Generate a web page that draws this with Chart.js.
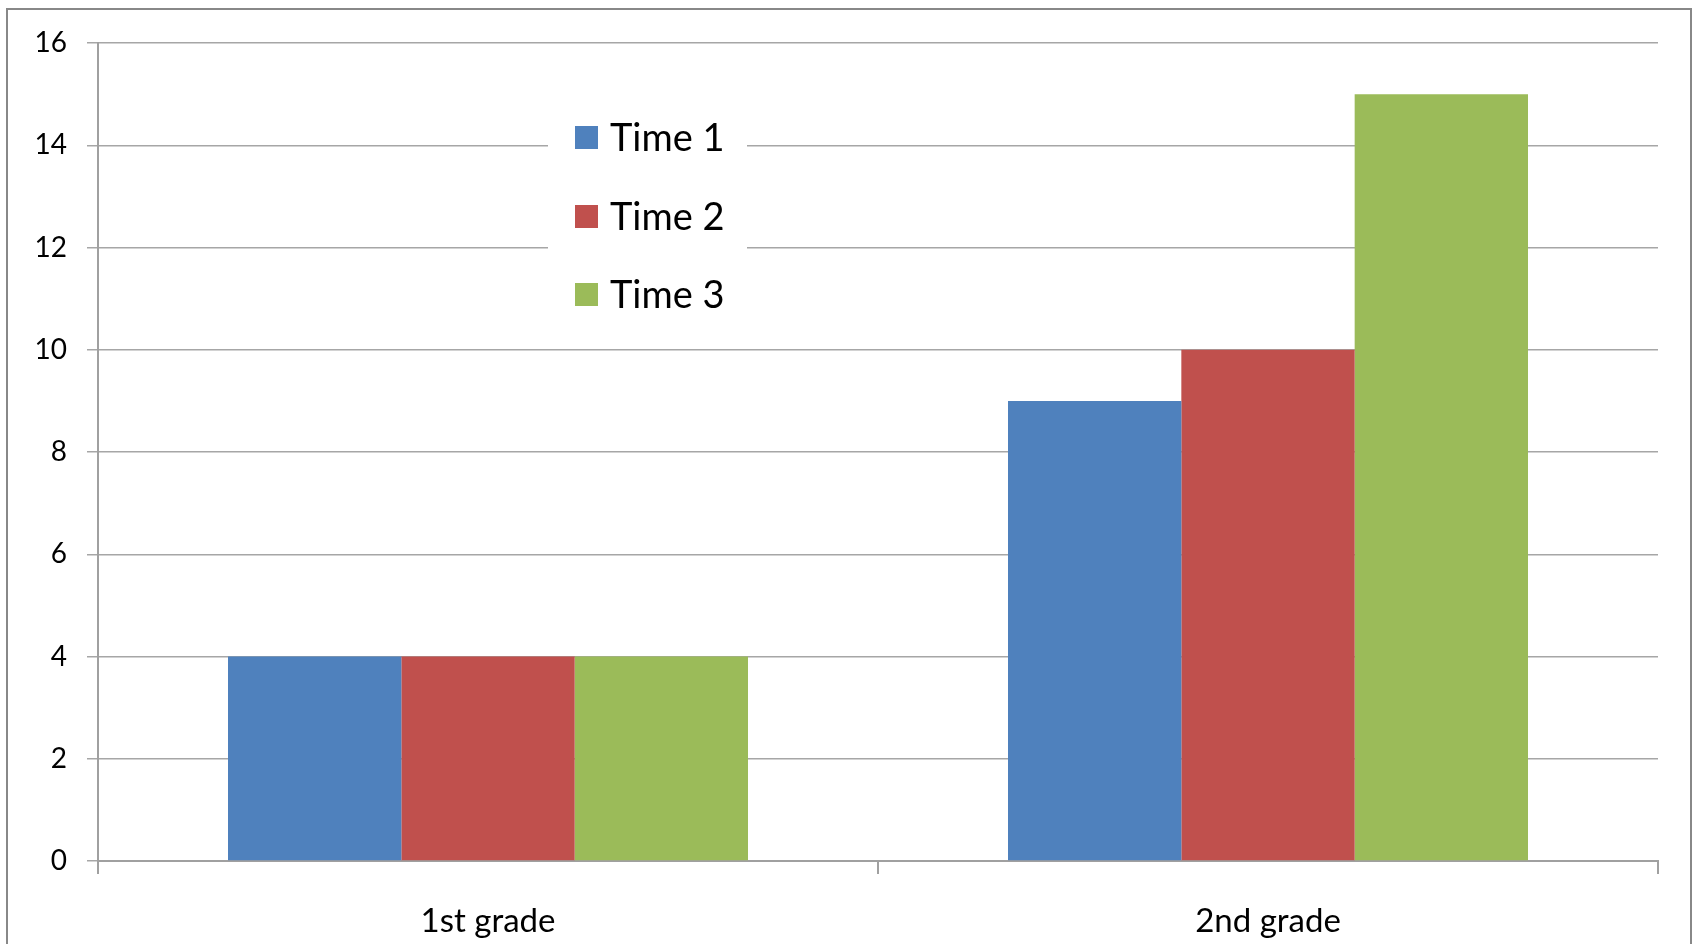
<!DOCTYPE html>
<html>
<head>
<meta charset="utf-8">
<script src="https://cdn.jsdelivr.net/npm/chart.js@4/dist/chart.umd.min.js"></script>
<style>
  html, body { margin: 0; padding: 0; background: #ffffff; overflow: hidden; }
  #wrap { position: relative; width: 1699px; height: 944px; }
  #frame { position: absolute; left: 6px; top: 8px; width: 1682px; height: 1000px;
           border: 2.5px solid #888888; pointer-events: none; }
  canvas { position: absolute; left: 0; top: 0; }
</style>
</head>
<body>
<div id="wrap">
  <canvas id="c" width="1699" height="944"></canvas>
  <div id="frame"></div>
</div>
<script>
const categories = ['1st grade', '2nd grade'];
const seriesNames = ['Time 1', 'Time 2', 'Time 3'];
const time1 = [4, 9];
const time2 = [4, 10];
const time3 = [4, 15];
const seriesColors = ['#4F81BD', '#C0504D', '#9BBB59'];
const yMin = 0, yMax = 16, yStep = 2;

const FONT = 'Lato, "Open Sans", "Liberation Sans", sans-serif';

const insideLegend = {
  id: 'insideLegend',
  afterDatasetsDraw(chart) {
    const ctx = chart.ctx;
    ctx.save();
    ctx.fillStyle = '#ffffff';
    ctx.fillRect(548, 95, 199, 230);
    const rows = [138, 217, 295];
    ctx.font = '38px ' + FONT;
    ctx.textBaseline = 'middle';
    ctx.textAlign = 'left';
    chart.data.datasets.forEach((ds, i) => {
      const cy = rows[i];
      ctx.fillStyle = ds.backgroundColor;
      ctx.fillRect(575, cy - 12, 23, 23);
      ctx.fillStyle = '#000000';
      ctx.fillText(ds.label, 610, cy + 1);
    });
    ctx.restore();
  }
};

new Chart(document.getElementById('c'), {
  type: 'bar',
  data: {
    labels: categories,
    datasets: [
      { label: seriesNames[0], data: time1, backgroundColor: seriesColors[0] },
      { label: seriesNames[1], data: time2, backgroundColor: seriesColors[1] },
      { label: seriesNames[2], data: time3, backgroundColor: seriesColors[2] }
    ]
  },
  options: {
    responsive: false,
    devicePixelRatio: 1,
    animation: false,
    layout: { padding: { top: 43, right: 41, left: 0, bottom: 0 } },
    datasets: { bar: { categoryPercentage: 2 / 3, barPercentage: 1, borderWidth: 0 } },
    plugins: {
      legend: { display: false },
      tooltip: { enabled: false },
      title: { display: false }
    },
    scales: {
      x: {
        offset: true,
        grid: { display: true, drawOnChartArea: false, drawTicks: true, tickLength: 13,
                offset: true, color: '#a0a0a0', lineWidth: 2 },
        border: { display: true, color: '#a0a0a0', width: 2 },
        ticks: { color: '#000000', font: { family: FONT, size: 33 }, padding: 28, maxRotation: 0 },
        afterFit(scale) { scale.height = 83; }
      },
      y: {
        min: yMin, max: yMax,
        ticks: { stepSize: yStep, color: '#000000', font: { family: FONT, size: 28 }, padding: 20 },
        grid: { color: '#a6a6a6', lineWidth: 1.5, tickLength: 11, drawTicks: true },
        border: { display: true, color: '#a0a0a0', width: 2 },
        afterFit(scale) { scale.width = 98; }
      }
    }
  },
  plugins: [insideLegend]
});
</script>
</body>
</html>
